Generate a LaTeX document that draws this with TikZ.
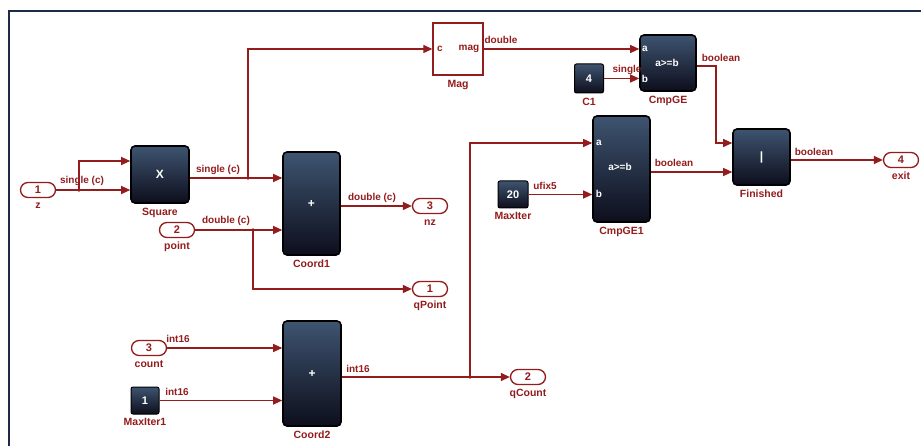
\documentclass[tikz,border=0pt]{standalone}
\usepackage{fontspec}
\setmainfont{Liberation Sans}
\usetikzlibrary{arrows.meta,positioning}

\definecolor{wirered}{HTML}{931C1C}
\definecolor{framecol}{HTML}{1C2B47}
\definecolor{blktop}{HTML}{3E5470}
\definecolor{blkbot}{HTML}{0D0E1C}

\tikzset{
  blk/.style={draw=black, line width=1.6pt, rounded corners=4pt,
    top color=blktop, bottom color=blkbot, text=white, inner sep=0pt,
    font=\bfseries\fontsize{12}{14}\selectfont},
  cst/.style={blk, rounded corners=2pt, line width=1pt,
    font=\bfseries\fontsize{11}{13}\selectfont},
  port/.style={draw=wirered, line width=1.3pt, rounded corners=7.5pt, fill=white,
    minimum width=35pt, minimum height=15pt, inner sep=0pt, text=wirered,
    font=\bfseries\fontsize{11}{13}\selectfont},
  lbl/.style={text=wirered, inner sep=1pt, font=\bfseries\fontsize{10.5}{12}\selectfont},
  sig/.style={text=wirered, inner sep=0pt, font=\bfseries\fontsize{10}{12}\selectfont},
  pin/.style={text=white, inner sep=0pt, font=\bfseries\fontsize{10}{12}\selectfont},
  link/.style={draw=wirered, line width=1.2pt},
  arr/.style={link, -{Triangle[length=9pt,width=8pt]}},
}

\begin{document}
\begin{tikzpicture}[x=1pt, y=-1pt]

\useasboundingbox (0,0) rectangle (921,446);

% Window frame
\draw[framecol, line width=2.5pt] (921,11) -- (9,11) -- (9,446);

% In / out ports
\node[port] (z) at (38,190) {1};
\node[lbl, below=4pt of z] (z-l) {z};
\node[port] (pt) at (177,230) {2};
\node[lbl, below=3pt of pt] (pt-l) {point};
\node[port] (cnt) at (149,348) {3};
\node[lbl, below=3pt of cnt] (cnt-l) {count};
\node[port] (nz) at (430,206) {3};
\node[lbl, below=4pt of nz] (nz-l) {nz};
\node[port] (qpt) at (430,289) {1};
\node[lbl, below=3pt of qpt] (qpt-l) {qPoint};
\node[port] (qc) at (528,377) {2};
\node[lbl, below=3pt of qc] (qc-l) {qCount};
\node[port] (ex) at (901,160) {4};
\node[lbl, below=3pt of ex] (ex-l) {exit};

% Constants
\node[cst, minimum width=28pt, minimum height=27pt] (mi1) at (145,400.5) {1};
\node[lbl, below=3pt of mi1] (mi1-l) {MaxIter1};
\node[cst, minimum width=30pt, minimum height=27pt] (mi) at (513,194.5) {20};
\node[lbl, below=3pt of mi] (mi-l) {MaxIter};
\node[cst, minimum width=29pt, minimum height=29pt] (cone) at (589,78.5) {4};
\node[lbl, below=3pt of cone] (cone-l) {C1};

% Blocks
\node[blk, minimum width=58pt, minimum height=57pt] (sq) at (160,174.5) {X};
\node[lbl, below=3pt of sq] (sq-l) {Square};
\node[blk, minimum width=57pt, minimum height=103pt] (c1) at (311.5,203.5) {+};
\node[lbl, below=3pt of c1] (c1-l) {Coord1};
\node[blk, minimum width=58pt, minimum height=105pt] (c2) at (312,373.5) {+};
\node[lbl, below=3pt of c2] (c2-l) {Coord2};
\node[draw=wirered, line width=1.3pt, minimum width=50pt, minimum height=52pt] (mag) at (458,49) {};
\node[sig] (mag-c) at (440,49) {c};
\node[sig] (mag-m) at (469,49) {mag};
\node[lbl, below=3pt of mag] (mag-l) {Mag};
\node[blk, minimum width=56pt, minimum height=56pt] (cge) at (668,63) {};
\node[pin] (cge-t) at (667,63) {a>=b};
\node[pin] (cge-a) at (645,49) {a};
\node[pin] (cge-b) at (645,79) {b};
\node[lbl, below=3pt of cge] (cge-l) {CmpGE};
\node[blk, minimum width=57pt, minimum height=106pt] (cge1) at (621.5,169) {};
\node[pin] (cge1-t) at (620,167) {a>=b};
\node[pin] (cge1-a) at (599,143) {a};
\node[pin] (cge1-b) at (599,194) {b};
\node[lbl, below=3pt of cge1] (cge1-l) {CmpGE1};
\node[blk, minimum width=57pt, minimum height=56pt] (fin) at (761.5,157) {|};
\node[lbl, below=3pt of fin] (fin-l) {Finished};

% Branch points
\coordinate (zb) at (79,190);
\coordinate (sqb) at (248,178);
\coordinate (ptb) at (253,230);
\coordinate (c2b) at (470,377);
\coordinate (cgeb) at (716,66);
\foreach \b in {zb,sqb,ptb,c2b}
  \fill[wirered] (\b) circle (1.8pt);

% Signals
\draw[arr] (z.east) -- (sq.west |- z.east);
\draw[arr] (zb) |- (sq.west |- 0,161);
\draw[arr] (sq.east |- 0,178) -- (c1.west |- 0,178);
\draw[arr] (sqb) |- (mag.west);
\draw[arr] (pt.east) -- (c1.west |- pt.east);
\draw[arr] (ptb) |- (qpt.west);
\draw[arr] (c1.east |- nz) -- (nz.west);
\draw[arr] (cnt.east) -- (c2.west |- cnt.east);
\draw[arr] (mi1.east) -- (c2.west |- mi1.east);
\draw[arr] (c2.east |- qc) -- (qc.west);
\draw[arr] (c2b) |- (cge1.west |- cge1-a);
\draw[arr] (mag.east) -- (cge.west |- mag.east);
\draw[arr] (cone.east) -- (cge.west |- cone.east);
\draw[arr] (cge.east |- cgeb) -- (cgeb) |- (fin.west |- 0,143);
\draw[arr] (mi.east) -- (cge1.west |- mi.east);
\draw[arr] (cge1.east |- 0,172) -- (fin.west |- 0,172);
\draw[arr] (fin.east |- ex) -- (ex.west);

% Signal labels
\node[sig] (s1) at (82,181) {single (c)};
\node[sig] (s2) at (218,170) {single (c)};
\node[sig] (s3) at (226,221) {double (c)};
\node[sig] (s4) at (372,198) {double (c)};
\node[sig] (s5) at (178,339) {int16};
\node[sig] (s6) at (177,392) {int16};
\node[sig] (s7) at (358,369) {int16};
\node[sig] (s8) at (501,40) {double};
\node[sig] (s9) at (627,70) {single};
\node[sig] (s10) at (721,58) {boolean};
\node[sig] (s11) at (674,163) {boolean};
\node[sig] (s12) at (545,186) {ufix5};
\node[sig] (s13) at (814,152) {boolean};

\end{tikzpicture}
\end{document}
